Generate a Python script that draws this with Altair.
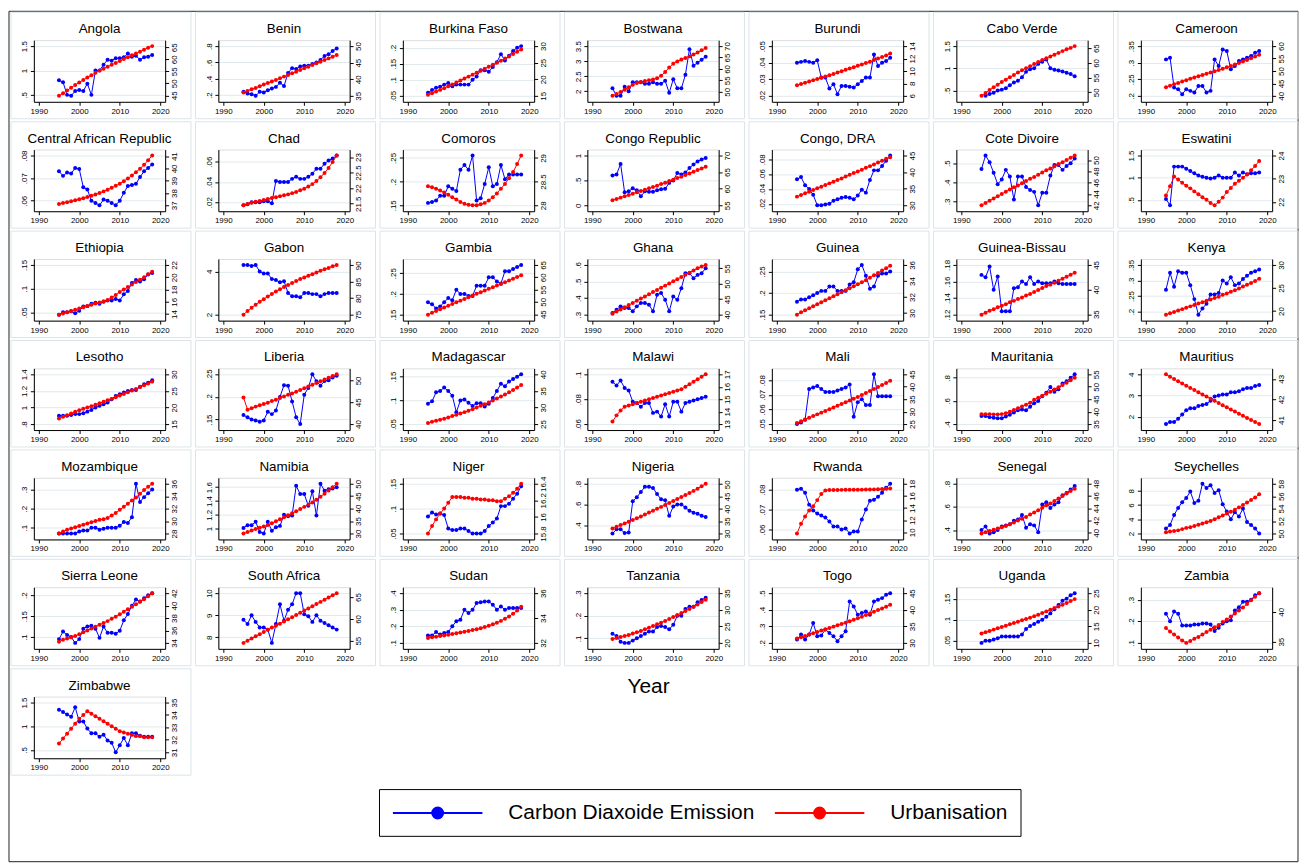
import altair as alt
import pandas as pd

YEARS = list(range(1995, 2019))
CO2_NAME = "Carbon Diaxoide Emission"
URB_NAME = "Urbanisation"

angola = dict(lt=[0.5, 1, 1.5], rt=[45, 50, 55, 60, 65],
    co2=[0.80,0.76,0.50,0.48,0.58,0.60,0.58,0.73,0.50,1.00,1.00,1.12,1.22,1.20,1.25,1.25,1.27,1.35,1.28,1.30,1.22,1.27,1.28,1.32],
    urb=[44.8,45.9,47.0,48.2,49.3,50.4,51.4,52.4,53.4,54.4,55.3,56.1,56.9,57.7,58.5,59.3,60.1,60.9,61.7,62.4,63.2,64.0,64.8,65.5])
benin = dict(lt=[0.2, 0.4, 0.6, 0.8], rt=[35, 40, 45, 50],
    co2=[0.24,0.22,0.21,0.19,0.24,0.23,0.26,0.28,0.30,0.35,0.31,0.47,0.53,0.52,0.55,0.56,0.56,0.58,0.60,0.63,0.68,0.70,0.74,0.77],
    urb=[36.0,36.5,37.0,37.4,37.9,38.4,38.9,39.3,39.8,40.3,40.8,41.3,41.8,42.3,42.8,43.3,43.8,44.3,44.8,45.3,45.8,46.3,46.8,47.3])
burkina = dict(lt=[0.05, 0.1, 0.15, 0.2], rt=[15, 20, 25, 30],
    co2=[0.060,0.068,0.075,0.078,0.085,0.090,0.080,0.085,0.085,0.085,0.085,0.100,0.110,0.130,0.130,0.125,0.140,0.155,0.180,0.160,0.175,0.190,0.200,0.205],
    urb=[15.3,15.8,16.3,16.8,17.3,17.9,18.4,19.0,19.6,20.2,20.8,21.4,22.0,22.6,23.2,23.8,24.4,25.0,25.6,26.3,26.9,27.6,28.3,29.0])
botswana = dict(lt=[2, 2.5, 3, 3.5], rt=[50, 55, 60, 65, 70],
    co2=[2.10,1.85,1.85,2.15,2.00,2.30,2.30,2.30,2.25,2.25,2.30,2.25,2.25,2.35,1.95,2.40,2.10,2.10,2.55,3.40,2.85,2.95,3.05,3.15],
    urb=[48.2,49.0,49.9,50.9,52.0,53.1,53.8,54.3,54.7,55.0,55.4,55.9,57.0,58.7,60.6,62.3,63.3,64.1,64.8,65.5,66.3,67.2,68.2,69.2])
burundi = dict(lt=[0.02, 0.03, 0.04, 0.05], rt=[6, 8, 10, 12, 14],
    co2=[0.0400,0.0405,0.0410,0.0405,0.0400,0.0415,0.0310,0.0310,0.0245,0.0270,0.0210,0.0260,0.0260,0.0255,0.0250,0.0270,0.0290,0.0310,0.0310,0.0450,0.0380,0.0400,0.0410,0.0430],
    urb=[7.7,7.9,8.1,8.3,8.5,8.7,8.9,9.1,9.3,9.5,9.75,9.95,10.2,10.4,10.6,10.85,11.05,11.3,11.5,11.75,12.0,12.25,12.5,12.8])
cabo_verde = dict(lt=[0.5, 1, 1.5], rt=[50, 55, 60, 65],
    co2=[None,0.38,0.42,0.45,0.50,0.52,0.55,0.62,0.68,0.72,0.80,0.92,0.98,1.00,1.10,1.15,1.20,1.00,0.97,0.95,0.93,0.90,0.87,0.82],
    urb=[48.8,49.8,50.8,51.7,52.6,53.5,54.3,55.1,55.9,56.7,57.5,58.2,58.9,59.6,60.3,61.0,61.6,62.2,62.8,63.4,64.0,64.6,65.1,65.7])
cameroon = dict(lt=[0.2, 0.25, 0.3, 0.35], rt=[40, 45, 50, 55, 60],
    co2=[0.310,0.315,0.225,0.220,0.205,0.220,0.215,0.210,0.230,0.230,0.210,0.215,0.310,0.290,0.340,0.335,0.280,0.290,0.305,0.310,0.315,0.320,0.330,0.335],
    urb=[43.5,44.1,44.7,45.2,45.8,46.3,46.9,47.4,47.9,48.4,48.9,49.4,49.9,50.4,50.9,51.5,52.0,52.6,53.2,53.8,54.4,55.1,55.8,56.5])
car = dict(lt=[0.06, 0.07, 0.08], rt=[37, 38, 39, 40, 41],
    co2=[0.0730,0.0710,0.0725,0.0720,0.0745,0.0740,0.0660,0.0650,0.0600,0.0590,0.0580,0.0605,0.0600,0.0590,0.0580,0.0600,0.0635,0.0665,0.0670,0.0675,0.0705,0.0730,0.0745,0.0760],
    urb=[37.10,37.18,37.25,37.32,37.40,37.48,37.57,37.67,37.77,37.88,38.00,38.13,38.27,38.42,38.58,38.76,38.96,39.18,39.42,39.69,39.98,40.30,40.66,41.05])
chad = dict(lt=[0.02, 0.04, 0.06], rt=[21.5, 22, 22.5, 23],
    co2=[0.017,0.018,0.020,0.020,0.020,0.021,0.021,0.019,0.041,0.040,0.040,0.040,0.043,0.045,0.043,0.043,0.045,0.048,0.053,0.053,0.058,0.061,0.063,0.066],
    urb=[21.45,21.49,21.53,21.56,21.59,21.62,21.65,21.68,21.71,21.74,21.77,21.80,21.84,21.88,21.93,21.98,22.05,22.13,22.23,22.35,22.49,22.65,22.84,23.05])
comoros = dict(lt=[0.15, 0.2, 0.25], rt=[28, 28.5, 29],
    co2=[0.155,0.157,0.160,0.170,0.170,0.190,0.185,0.180,0.225,0.235,0.225,0.255,0.160,0.165,0.195,0.230,0.190,0.195,0.235,0.205,0.215,0.215,0.215,0.215],
    urb=[28.40,28.38,28.35,28.31,28.27,28.22,28.17,28.12,28.07,28.03,28.01,28.00,28.00,28.02,28.05,28.10,28.17,28.25,28.35,28.45,28.57,28.70,28.87,29.05])
congo_rep = dict(lt=[0, 0.5, 1], rt=[55, 60, 65, 70],
    co2=[0.60,0.62,0.83,0.26,0.28,0.34,0.30,0.18,0.28,0.27,0.27,0.30,0.32,0.33,0.45,0.50,0.65,0.62,0.66,0.75,0.82,0.88,0.92,0.95],
    urb=[56.5,56.9,57.3,57.7,58.1,58.5,58.9,59.3,59.7,60.1,60.5,60.9,61.4,61.8,62.3,62.7,63.2,63.6,64.1,64.6,65.1,65.6,66.1,66.6])
congo_dra = dict(lt=[0.02, 0.04, 0.06, 0.08], rt=[30, 35, 40, 45],
    co2=[0.053,0.056,0.045,0.040,0.032,0.018,0.018,0.019,0.020,0.024,0.026,0.028,0.029,0.028,0.026,0.031,0.039,0.035,0.052,0.065,0.065,0.071,0.078,0.085],
    urb=[32.6,33.1,33.6,34.1,34.6,35.1,35.6,36.1,36.6,37.1,37.6,38.1,38.7,39.2,39.7,40.2,40.7,41.3,41.8,42.3,42.9,43.4,44.0,44.5])
cote_divoire = dict(lt=[0.3, 0.4, 0.5], rt=[42, 44, 46, 48, 50],
    co2=[0.470,0.540,0.505,0.450,0.390,0.415,0.465,0.430,0.310,0.430,0.430,0.375,0.360,0.350,0.280,0.345,0.345,0.435,0.490,0.490,0.465,0.485,0.500,0.525],
    urb=[42.0,42.4,42.8,43.2,43.6,44.0,44.4,44.8,45.2,45.5,45.9,46.3,46.7,47.0,47.4,47.8,48.2,48.5,48.9,49.3,49.6,50.0,50.4,50.8])
eswatini = dict(lt=[0.5, 1, 1.5], rt=[22, 23, 24],
    co2=[0.52,0.38,1.25,1.25,1.25,1.20,1.15,1.10,1.05,1.02,1.00,0.98,1.00,1.05,1.00,1.00,1.00,1.12,1.05,1.12,1.08,1.10,1.10,1.12],
    urb=[22.27,22.67,23.09,22.96,22.82,22.69,22.58,22.45,22.33,22.20,22.09,21.95,21.85,22.00,22.18,22.42,22.60,22.78,22.91,23.04,23.18,23.36,23.55,23.76])
ethiopia = dict(lt=[0.05, 0.1, 0.15], rt=[14, 16, 18, 20, 22],
    co2=[0.045,0.050,0.050,0.052,0.048,0.053,0.062,0.063,0.068,0.070,0.068,0.072,0.075,0.075,0.078,0.075,0.088,0.095,0.112,0.118,0.115,0.120,0.130,0.133],
    urb=[13.9,14.1,14.3,14.5,14.7,14.9,15.1,15.3,15.5,15.7,15.9,16.1,16.3,16.7,17.1,17.6,18.0,18.4,18.8,19.2,19.6,20.0,20.5,20.9])
gabon = dict(lt=[2, 4], rt=[75, 80, 85, 90],
    co2=[4.30,4.30,4.25,4.30,4.00,3.90,3.90,3.65,3.60,3.50,3.55,3.00,2.85,2.85,2.80,3.00,3.00,2.95,2.95,2.85,2.95,3.00,3.00,3.00],
    urb=[75.0,76.1,77.1,78.0,78.9,79.7,80.5,81.3,82.0,82.7,83.4,84.0,84.6,85.2,85.8,86.3,86.8,87.3,87.8,88.3,88.8,89.2,89.7,90.1])
gambia = dict(lt=[0.15, 0.2, 0.25], rt=[45, 50, 55, 60, 65],
    co2=[0.180,0.175,0.165,0.170,0.180,0.190,0.185,0.210,0.200,0.200,0.195,0.195,0.220,0.220,0.220,0.240,0.240,0.230,0.225,0.255,0.255,0.260,0.265,0.270],
    urb=[44.8,45.6,46.3,47.0,47.7,48.4,49.1,49.8,50.5,51.2,51.9,52.6,53.3,53.9,54.6,55.3,55.9,56.6,57.3,58.0,58.7,59.4,60.1,60.8])
ghana = dict(lt=[0.3, 0.4, 0.5, 0.6], rt=[40, 45, 50, 55],
    co2=[0.31,0.33,0.35,0.34,0.34,0.32,0.35,0.37,0.37,0.36,0.32,0.42,0.43,0.39,0.32,0.41,0.39,0.46,0.55,0.55,0.52,0.54,0.55,0.58],
    urb=[40.3,41.0,41.7,42.4,43.1,43.8,44.5,45.2,45.9,46.6,47.3,48.0,48.7,49.4,50.1,50.8,51.5,52.2,52.9,53.6,54.3,55.0,55.6,56.1])
guinea = dict(lt=[0.15, 0.2, 0.25], rt=[30, 32, 34, 36],
    co2=[0.180,0.185,0.185,0.190,0.195,0.200,0.205,0.205,0.215,0.215,0.205,0.205,0.205,0.220,0.225,0.255,0.265,0.240,0.210,0.215,0.240,0.245,0.245,0.250],
    urb=[29.8,30.1,30.35,30.6,30.85,31.1,31.35,31.6,31.85,32.1,32.35,32.6,32.85,33.1,33.35,33.6,33.85,34.1,34.4,34.7,35.0,35.3,35.6,35.9])
guinea_bissau = dict(lt=[0.12, 0.14, 0.16, 0.18], rt=[35, 40, 45],
    co2=[0.168,0.165,0.178,0.150,0.166,0.124,0.124,0.124,0.152,0.153,0.160,0.157,0.165,0.157,0.160,0.158,0.158,0.158,0.160,0.158,0.157,0.157,0.157,0.157],
    urb=[34.9,35.3,35.7,36.0,36.4,36.7,37.0,37.4,37.7,38.1,38.4,38.8,39.1,39.5,39.9,40.3,40.7,41.0,41.4,41.8,42.2,42.6,43.0,43.4])
kenya = dict(lt=[0.2, 0.25, 0.3, 0.35], rt=[20, 25, 30],
    co2=[0.270,0.325,0.280,0.330,0.325,0.325,0.285,0.240,0.190,0.210,0.225,0.255,0.255,0.260,0.300,0.290,0.310,0.285,0.290,0.305,0.315,0.325,0.330,0.335],
    urb=[19.2,19.5,19.8,20.1,20.4,20.7,21.0,21.3,21.6,21.9,22.2,22.5,22.8,23.1,23.5,23.8,24.2,24.5,24.9,25.3,25.7,26.1,26.5,27.0])
lesotho = dict(lt=[0.8, 1, 1.2, 1.4], rt=[15, 20, 25, 30],
    co2=[0.90,0.90,0.90,0.91,0.92,0.92,0.93,0.95,0.97,1.00,1.02,1.04,1.06,1.10,1.14,1.16,1.18,1.20,1.21,1.21,1.25,1.28,1.30,1.33],
    urb=[16.7,17.2,17.7,18.2,18.7,19.2,19.6,20.0,20.4,20.8,21.3,21.7,22.2,22.6,23.1,23.6,24.1,24.6,25.1,25.6,26.2,26.7,27.2,27.8])
liberia = dict(lt=[0.15, 0.2, 0.25], rt=[40, 45, 50],
    co2=[0.160,0.155,0.150,0.148,0.145,0.148,0.167,0.162,0.170,0.200,0.226,0.225,0.190,0.155,0.140,0.205,0.220,0.250,0.235,0.225,0.235,0.237,0.243,0.247],
    urb=[46.1,43.3,43.6,44.0,44.3,44.6,44.9,45.3,45.6,46.0,46.3,46.7,47.0,47.4,47.8,48.2,48.6,49.0,49.4,49.8,50.2,50.6,51.0,51.4])
madagascar = dict(lt=[0.05, 0.1, 0.15], rt=[25, 30, 35, 40],
    co2=[0.093,0.098,0.117,0.120,0.127,0.120,0.110,0.075,0.100,0.102,0.095,0.088,0.094,0.094,0.087,0.093,0.105,0.120,0.135,0.130,0.140,0.145,0.150,0.155],
    urb=[25.3,25.7,26.0,26.3,26.6,27.0,27.4,27.8,28.2,28.6,29.0,29.5,30.0,30.5,31.0,31.5,32.1,32.7,33.3,33.9,34.6,35.3,36.0,36.8])
malawi = dict(lt=[0.06, 0.08, 0.1], rt=[13, 14, 15, 16, 17],
    co2=[0.094,0.091,0.095,0.089,0.087,0.078,0.077,0.074,0.077,0.077,0.069,0.070,0.066,0.076,0.066,0.078,0.078,0.070,0.077,0.078,0.079,0.080,0.081,0.082],
    urb=[13.2,13.7,14.1,14.4,14.5,14.6,14.7,14.8,14.9,15.0,15.1,15.2,15.3,15.4,15.5,15.6,15.7,15.8,16.0,16.2,16.4,16.6,16.8,17.0])
mali = dict(lt=[0.05, 0.06, 0.07, 0.08], rt=[25, 30, 35, 40, 45],
    co2=[0.050,0.051,0.053,0.074,0.075,0.076,0.074,0.072,0.072,0.072,0.073,0.074,0.075,0.077,0.055,0.065,0.067,0.063,0.063,0.084,0.069,0.069,0.069,0.069],
    urb=[25.4,26.1,26.8,27.5,28.2,28.9,29.6,30.3,31.0,31.7,32.4,33.1,33.8,34.5,35.2,35.9,36.7,37.5,38.3,39.1,39.9,40.7,41.5,42.4])
mauritania = dict(lt=[0.4, 0.6, 0.8], rt=[35, 40, 45, 50, 55],
    co2=[0.470,0.470,0.460,0.455,0.450,0.450,0.465,0.480,0.500,0.520,0.525,0.520,0.550,0.580,0.600,0.640,0.670,0.720,0.680,0.700,0.750,0.770,0.800,0.830],
    urb=[39.0,39.0,39.0,38.9,38.9,39.0,39.4,40.0,40.7,41.4,42.1,42.8,43.6,44.8,45.6,46.4,47.2,48.0,48.9,49.8,50.7,51.6,52.6,53.6])
mauritius = dict(lt=[2, 3, 4], rt=[41, 42, 43],
    co2=[1.65,1.75,1.75,1.90,2.10,2.30,2.40,2.40,2.50,2.55,2.60,2.75,2.95,3.00,3.05,3.05,3.15,3.15,3.20,3.30,3.35,3.35,3.45,3.50],
    urb=[43.22,43.10,42.99,42.88,42.77,42.66,42.56,42.46,42.35,42.24,42.14,42.03,41.93,41.83,41.72,41.62,41.51,41.41,41.30,41.20,41.10,41.00,40.90,40.80])
mozambique = dict(lt=[0.1, 0.2, 0.3], rt=[28, 30, 32, 34, 36],
    co2=[0.070,0.070,0.070,0.070,0.070,0.080,0.085,0.085,0.100,0.100,0.090,0.095,0.100,0.100,0.100,0.110,0.130,0.125,0.155,0.330,0.235,0.260,0.280,0.300],
    urb=[28.0,28.3,28.6,28.8,29.0,29.2,29.4,29.6,29.8,30.0,30.2,30.3,30.5,30.9,31.3,31.8,32.3,32.8,33.3,33.8,34.4,35.0,35.5,36.0])
namibia = dict(lt=[1, 1.2, 1.4, 1.6], rt=[30, 35, 40, 45, 50],
    co2=[1.01,1.05,1.05,1.10,0.95,0.93,1.10,0.97,1.02,1.04,1.20,1.18,1.19,1.62,1.50,1.50,1.33,1.54,1.19,1.65,1.55,1.57,1.58,1.60],
    urb=[30.0,30.6,31.2,31.8,32.3,32.8,33.4,34.1,34.9,35.7,36.5,37.3,38.1,38.9,39.8,40.7,41.6,42.5,43.6,44.8,46.0,47.3,48.6,50.0])
niger = dict(lt=[0.05, 0.1, 0.15], rt=[15.8, 16, 16.2, 16.4],
    co2=[0.084,0.092,0.088,0.090,0.087,0.060,0.057,0.057,0.060,0.060,0.055,0.050,0.050,0.050,0.055,0.065,0.072,0.080,0.105,0.105,0.110,0.120,0.130,0.145],
    urb=[15.80,15.89,15.97,16.04,16.10,16.17,16.24,16.24,16.24,16.23,16.23,16.22,16.22,16.21,16.21,16.20,16.20,16.19,16.19,16.22,16.25,16.29,16.34,16.40])
nigeria = dict(lt=[0.4, 0.6, 0.8], rt=[30, 35, 40, 45, 50],
    co2=[0.32,0.36,0.36,0.325,0.33,0.63,0.67,0.72,0.77,0.77,0.76,0.70,0.65,0.64,0.49,0.58,0.60,0.60,0.57,0.54,0.52,0.51,0.49,0.48],
    urb=[32.0,32.7,33.4,34.1,34.8,35.5,36.2,36.9,37.7,38.5,39.2,40.0,40.8,41.6,42.4,43.2,44.0,44.8,45.6,46.4,47.3,48.2,49.2,50.2])
rwanda = dict(lt=[0.06, 0.07, 0.08], rt=[10, 12, 14, 16, 18],
    co2=[0.0800,0.0805,0.0785,0.0725,0.0695,0.0680,0.0670,0.0660,0.0640,0.0615,0.0615,0.0600,0.0605,0.0580,0.0590,0.0590,0.0650,0.0700,0.0745,0.0750,0.0765,0.0785,0.0810,0.0830],
    urb=[9.8,11.4,12.6,13.6,14.3,15.3,16.3,16.9,16.95,16.97,16.98,16.99,17.0,17.0,17.01,17.02,17.03,17.04,17.05,17.07,17.09,17.12,17.16,17.21])
senegal = dict(lt=[0.4, 0.6, 0.8], rt=[40, 42, 44, 46, 48],
    co2=[0.40,0.43,0.37,0.38,0.40,0.43,0.44,0.45,0.48,0.49,0.53,0.42,0.45,0.44,0.38,0.62,0.64,0.59,0.62,0.64,0.70,0.72,0.75,0.78],
    urb=[39.9,40.1,40.3,40.5,40.7,40.9,41.1,41.4,41.7,42.0,42.3,42.6,43.0,43.3,43.7,44.1,44.5,44.8,45.2,45.6,46.0,46.4,46.8,47.2])
seychelles = dict(lt=[2, 4, 6, 8], rt=[50, 52, 54, 56, 58],
    co2=[2.7,3.2,4.6,5.6,6.4,7.0,7.9,6.3,6.6,9.0,8.4,8.8,7.7,8.1,6.1,5.1,4.0,5.0,4.4,5.5,3.6,3.2,2.7,2.0],
    urb=[50.2,50.3,50.4,50.5,50.7,50.9,51.0,51.2,51.4,51.6,51.8,52.0,52.3,52.6,52.9,53.2,53.5,53.8,54.2,54.6,55.0,55.4,55.8,56.3])
sierra_leone = dict(lt=[0.1, 0.15, 0.2], rt=[34, 36, 38, 40, 42],
    co2=[0.095,0.113,0.105,0.100,0.086,0.095,0.120,0.125,0.127,0.120,0.098,0.125,0.110,0.110,0.108,0.115,0.140,0.155,0.175,0.190,0.185,0.193,0.200,0.205],
    urb=[34.2,34.5,34.7,34.9,35.1,35.4,35.7,36.0,36.3,36.6,36.9,37.2,37.5,37.9,38.2,38.6,39.0,39.4,39.8,40.2,40.6,41.0,41.5,42.0])
south_africa = dict(lt=[8, 9, 10], rt=[55, 60, 65],
    co2=[8.80,8.60,9.00,8.70,8.45,8.45,8.35,7.75,8.60,9.50,8.75,9.25,9.50,10.00,10.00,9.05,8.95,8.70,9.00,8.75,8.65,8.55,8.45,8.35],
    urb=[54.5,55.0,55.5,56.0,56.5,57.0,57.5,58.0,58.4,58.9,59.4,59.9,60.4,60.9,61.4,61.9,62.4,62.9,63.4,63.9,64.4,64.9,65.4,65.9])
sudan = dict(lt=[0.1, 0.2, 0.3, 0.4], rt=[32, 34, 36],
    co2=[0.145,0.145,0.165,0.150,0.160,0.165,0.200,0.230,0.240,0.300,0.280,0.300,0.340,0.345,0.350,0.350,0.330,0.300,0.320,0.300,0.310,0.310,0.310,0.310],
    urb=[32.40,32.45,32.50,32.55,32.60,32.66,32.72,32.78,32.84,32.90,32.96,33.03,33.10,33.18,33.27,33.37,33.49,33.62,33.77,33.94,34.13,34.35,34.60,34.90])
tanzania = dict(lt=[0.1, 0.2, 0.3], rt=[20, 25, 30, 35],
    co2=[0.120,0.110,0.085,0.080,0.080,0.090,0.100,0.110,0.120,0.130,0.130,0.150,0.155,0.150,0.140,0.160,0.200,0.200,0.230,0.240,0.240,0.260,0.270,0.280],
    urb=[21.2,21.5,21.8,22.1,22.4,22.8,23.2,23.6,24.1,24.6,25.1,25.6,26.1,26.6,27.2,27.8,28.4,29.0,29.6,30.2,30.9,31.6,32.3,33.0])
togo = dict(lt=[0.2, 0.3, 0.4, 0.5], rt=[30, 35, 40, 45],
    co2=[0.22,0.25,0.22,0.25,0.32,0.24,0.245,0.28,0.26,0.24,0.21,0.24,0.27,0.45,0.42,0.37,0.38,0.39,0.37,0.45,0.46,0.47,0.49,0.50],
    urb=[31.3,31.7,32.1,32.5,32.9,33.3,33.7,34.1,34.5,34.9,35.3,35.7,36.1,36.5,37.0,37.4,37.9,38.4,38.9,39.4,39.9,40.4,40.9,41.5])
uganda = dict(lt=[0.05, 0.1, 0.15], rt=[10, 15, 20, 25],
    co2=[0.045,0.050,0.050,0.053,0.056,0.060,0.060,0.060,0.060,0.060,0.065,0.078,0.085,0.090,0.095,0.100,0.107,0.115,0.125,0.135,0.145,0.150,0.158,0.163],
    urb=[12.8,13.2,13.6,14.0,14.4,14.8,15.2,15.6,16.0,16.4,16.8,17.2,17.6,18.0,18.5,19.0,19.5,20.0,20.5,21.0,21.5,22.0,22.6,23.2])
zambia = dict(lt=[0.1, 0.2, 0.3], rt=[35, 40],
    co2=[0.235,0.200,0.245,0.235,0.180,0.180,0.180,0.185,0.185,0.190,0.190,0.185,0.155,0.170,0.190,0.200,0.205,0.250,0.265,0.290,0.290,0.300,0.320,0.330],
    urb=[37.3,36.7,36.2,35.7,35.2,34.8,35.1,35.5,35.8,36.2,36.6,37.0,37.4,37.8,38.3,38.7,39.2,39.7,40.2,40.7,41.3,41.9,42.5,43.1])
zimbabwe = dict(lt=[0.5, 1, 1.5], rt=[31, 32, 33, 34, 35],
    co2=[1.35,1.30,1.25,1.20,1.40,1.10,1.10,0.95,0.85,0.85,0.78,0.82,0.70,0.65,0.45,0.60,0.75,0.60,0.85,0.85,0.80,0.78,0.78,0.78],
    urb=[31.7,32.1,32.5,32.9,33.3,33.7,34.0,34.3,34.1,33.9,33.7,33.5,33.3,33.1,32.9,32.7,32.6,32.5,32.4,32.3,32.3,32.2,32.2,32.2])

PANELS = [
    ("Angola", angola), ("Benin", benin), ("Burkina Faso", burkina), ("Bostwana", botswana),
    ("Burundi", burundi), ("Cabo Verde", cabo_verde), ("Cameroon", cameroon),
    ("Central African Republic", car), ("Chad", chad), ("Comoros", comoros),
    ("Congo Republic", congo_rep), ("Congo, DRA", congo_dra), ("Cote Divoire", cote_divoire),
    ("Eswatini", eswatini), ("Ethiopia", ethiopia), ("Gabon", gabon), ("Gambia", gambia),
    ("Ghana", ghana), ("Guinea", guinea), ("Guinea-Bissau", guinea_bissau), ("Kenya", kenya),
    ("Lesotho", lesotho), ("Liberia", liberia), ("Madagascar", madagascar), ("Malawi", malawi),
    ("Mali", mali), ("Mauritania", mauritania), ("Mauritius", mauritius),
    ("Mozambique", mozambique), ("Namibia", namibia), ("Niger", niger), ("Nigeria", nigeria),
    ("Rwanda", rwanda), ("Senegal", senegal), ("Seychelles", seychelles),
    ("Sierra Leone", sierra_leone), ("South Africa", south_africa), ("Sudan", sudan),
    ("Tanzania", tanzania), ("Togo", togo), ("Uganda", uganda), ("Zambia", zambia),
    ("Zimbabwe", zimbabwe),
]
X_TICKS = [1990, 2000, 2010, 2020]
X_TITLE = "Year"

# ---- layout / style ----
FONT = "Liberation Sans"
W, H = 132, 62
PITCH_X, PITCH_Y = 185.5, 110
XDOM = [1988.8, 2021.2]
GRID = "#e1e9ed"
CELL = "#dbe4e8"
MARGIN_PX = 6

LABEL_EXPR = ("datum.value > 0 && datum.value < 1 ? substring(toString(datum.value), 1) "
              ": toString(datum.value)")


def _ring(cx, r):
    return f"M{cx - r},0A{r},{r},0,1,0,{cx + r},0A{r},{r},0,1,0,{cx - r},0"


# legend key: a line with a dot (stroked rings make the dot look filled)
SYMBOL = "M-1,0L8,0" + _ring(3.5, 0.55) + _ring(3.5, 0.35) + _ring(3.5, 0.15)

color_scale = alt.Scale(domain=[CO2_NAME, URB_NAME], range=["#0000ff", "#ff0000"])
legend = alt.Legend(
    title=None, orient="none", legendX=347, legendY=753, direction="horizontal",
    symbolType=SYMBOL, symbolSize=400, symbolStrokeWidth=2, symbolOpacity=1,
    labelFontSize=21, labelFont=FONT, labelColor="black", labelLimit=500,
    labelOffset=95, columnPadding=16, padding=13,
    strokeColor="black", fillColor="white",
)


def dom(vals, ticks):
    v = [x for x in vals if x is not None] + list(ticks)
    lo, hi = min(v), max(v)
    pad = (hi - lo) * MARGIN_PX / (H - 2 * MARGIN_PX)
    return [lo - pad, hi + pad]


def y_axis(ticks, orient, grid):
    return alt.Axis(values=ticks, orient=orient, labelAngle=-90, labelExpr=LABEL_EXPR,
                    grid=grid, gridColor=GRID, gridWidth=1, title=None, tickSize=3.5,
                    labelFontSize=8, labelPadding=1.5, labelOverlap=False, labelFont=FONT,
                    labelColor="black", domainColor="black", tickColor="black")


x_axis = alt.Axis(values=X_TICKS, format="d", labelFontSize=8, tickSize=3.5, labelPadding=2,
                  grid=False, title=None, labelFlush=False, labelFont=FONT, labelColor="black",
                  domainColor="black", tickColor="black", labelOverlap=False)

one = pd.DataFrame({"t": [""]})


def panel(idx, name, d):
    df = pd.DataFrame({"year": YEARS, "co2": d["co2"], "urb": d["urb"]})
    x = alt.X("year:Q", scale=alt.Scale(domain=XDOM, nice=False, zero=False), axis=x_axis)
    mk = dict(strokeWidth=1, point=alt.OverlayMarkDef(filled=True, size=16, opacity=1))

    cell = alt.Chart(one).mark_rect(fill=None, stroke=CELL, strokeWidth=1).encode(
        x=alt.value(-23), x2=alt.value(W + 26), y=alt.value(-28), y2=alt.value(H + 17))
    title = alt.Chart(pd.DataFrame({"t": [name]})).mark_text(
        font=FONT, fontSize=13.5, color="black", align="center", baseline="middle"
    ).encode(text="t:N", x=alt.value(W / 2), y=alt.value(-11))

    left = alt.Chart(df).transform_calculate(series=f"'{CO2_NAME}'").mark_line(**mk).encode(
        x=x,
        y=alt.Y("co2:Q", scale=alt.Scale(domain=dom(d["co2"], d["lt"]), nice=False, zero=False),
                axis=y_axis(d["lt"], "left", True)),
        color=alt.Color("series:N", scale=color_scale, legend=legend),
    )
    right = alt.Chart(df).transform_calculate(series=f"'{URB_NAME}'").mark_line(**mk).encode(
        x=x,
        y=alt.Y("urb:Q", scale=alt.Scale(domain=dom(d["urb"], d["rt"]), nice=False, zero=False),
                axis=y_axis(d["rt"], "right", False)),
        color=alt.Color("series:N", scale=color_scale, legend=legend),
    )
    layers = [cell, left, right, title]
    if idx == 0:
        # figure frame (drawn from the first panel so it spans the whole figure)
        frame = alt.Chart(one).mark_rect(fill=None, stroke="#222222", strokeWidth=1).encode(
            x=alt.value(-25), x2=alt.value(1271), y=alt.value(-29), y2=alt.value(826))
        layers = [frame] + layers
    if name == "Zimbabwe":
        year = alt.Chart(pd.DataFrame({"t": [X_TITLE]})).mark_text(
            font=FONT, fontSize=21, color="black", align="center", baseline="middle"
        ).encode(text="t:N", x=alt.value(618), y=alt.value(-10))
        layers.append(year)
    return alt.layer(*layers).resolve_scale(y="independent").properties(width=W, height=H)


charts = [panel(i, name, d) for i, (name, d) in enumerate(PANELS)]

chart = alt.concat(
    *charts, columns=7, bounds="flush",
    spacing={"row": PITCH_Y - H, "column": PITCH_X - W},
).resolve_scale(color="shared").resolve_legend(color="shared").properties(
    padding={"left": 0, "top": 0, "right": 0, "bottom": 0}
).configure_view(strokeWidth=0).configure(background="white")

chart.save("out.html", embed_options={"renderer": "svg", "actions": False})
